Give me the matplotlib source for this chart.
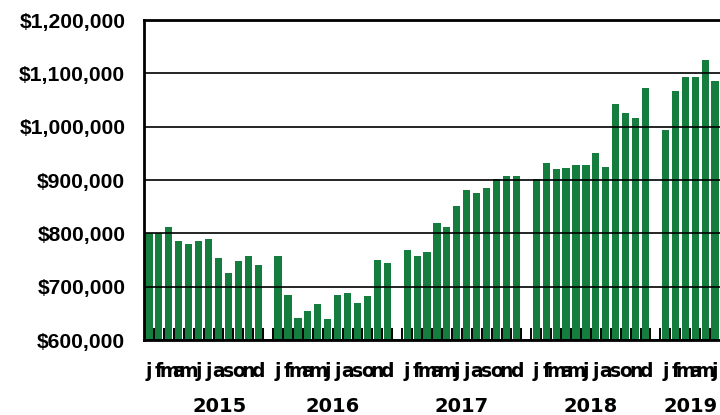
import matplotlib
matplotlib.use('Agg')
import matplotlib.pyplot as plt
from matplotlib.ticker import FuncFormatter, FixedLocator

years = ['2015', '2016', '2017', '2018', '2019']
month_letters = ['j', 'f', 'm', 'a', 'm', 'j', 'j', 'a', 's', 'o', 'n', 'd']
sales_2015 = [800000, 800000, 811000, 786000, 780000, 786000, 789000, 753000, 725000, 749000, 758000, 740000]
sales_2016 = [758000, 685000, 642000, 654000, 667000, 639000, 685000, 688000, 670000, 682000, 750000, 744000]
sales_2017 = [768000, 758000, 765000, 820000, 811000, 851000, 882000, 876000, 885000, 901000, 907000, 907000]
sales_2018 = [901000, 931000, 920000, 922000, 928000, 928000, 950000, 924000, 1042000, 1026000, 1017000, 1073000]
sales_2019 = [993000, 1067000, 1094000, 1094000, 1125000, 1085000]
series = [sales_2015, sales_2016, sales_2017, sales_2018, sales_2019]
y_ticks = [600000, 700000, 800000, 900000, 1000000, 1100000, 1200000]

green = '#157d3d'

fig = plt.figure(figsize=(7.2, 4.15), dpi=100)
ax = fig.add_axes([0.2, 0.1807, 0.8, 0.7711])

xs, vals, labels, group_centers = [], [], [], []
slot = 0
for yi, s in enumerate(series):
    start = slot
    for mi, v in enumerate(s):
        xs.append(slot)
        vals.append(v)
        labels.append(month_letters[mi])
        slot += 1
    group_centers.append((start + slot - 1) / 2)
    slot += 1  # gap
n_slots = slot - 1

ax.bar(xs, vals, width=0.72, color=green, zorder=1)
ax.set_xlim(-0.5, n_slots - 0.5)
ax.set_ylim(600000, 1200000)

ax.set_yticks(y_ticks)
ax.yaxis.set_major_formatter(FuncFormatter(lambda v, p: '${:,.0f}'.format(v)))
ax.tick_params(axis='y', length=0, pad=13.5)
for t in ax.get_yticklabels():
    t.set_fontfamily(['Liberation Sans', 'DejaVu Sans'])
    t.set_fontweight('bold')
    t.set_fontsize(15.2)

ax.set_axisbelow(False)
ax.yaxis.grid(True, color='black', lw=1.2)

ax.set_xticks([])
ax.xaxis.set_minor_locator(FixedLocator([i + 0.5 for i in range(n_slots - 1)]))
ax.tick_params(axis='x', which='minor', direction='in', length=8.6, width=1.4, color='black')

for sp in ['left', 'top', 'bottom']:
    ax.spines[sp].set_linewidth(2)
ax.spines['right'].set_visible(False)

for x, lab in zip(xs, labels):
    ax.annotate(lab, xy=(x, 0), xycoords=('data', 'axes fraction'),
                xytext=(0, -26.6), textcoords='offset points',
                ha='center', va='baseline', fontsize=13.5, fontweight='bold',
                family=['Liberation Sans Narrow', 'DejaVu Sans Condensed', 'DejaVu Sans'])

year_pos = list(group_centers)
year_pos[0] = group_centers[0] + 1.65
for x, y in zip(year_pos, years):
    ax.annotate(y, xy=(x, 0), xycoords=('data', 'axes fraction'),
                xytext=(0, -51.8), textcoords='offset points',
                ha='center', va='baseline', fontsize=14, fontweight='bold',
                family=['DejaVu Sans'])

fig.savefig('out.png', dpi=100, facecolor='white')
